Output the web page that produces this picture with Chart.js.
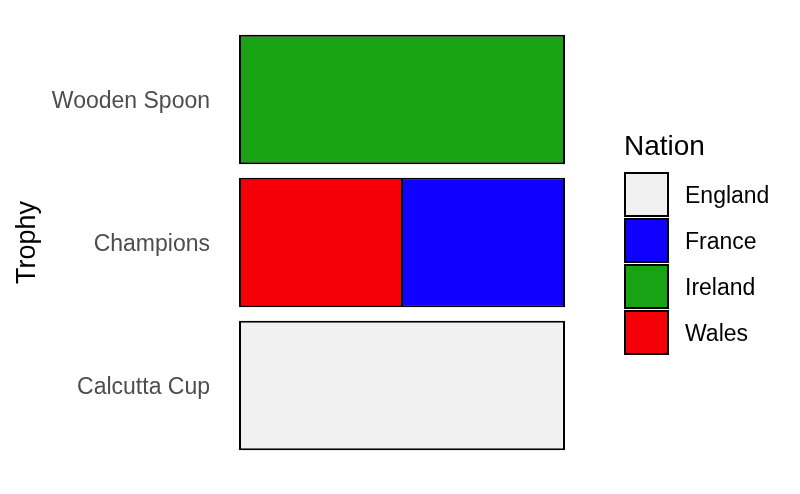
<!DOCTYPE html>
<html>
<head>
<meta charset="utf-8">
<script src="https://cdn.jsdelivr.net/npm/chart.js@4"></script>
<style>
html,body{margin:0;padding:0;background:#fff;}
#wrap{position:relative;width:800px;height:494px;}
</style>
</head>
<body>
<div id="wrap"><canvas id="c" width="800" height="494"></canvas></div>
<script>
const categories = ['Wooden Spoon', 'Champions', 'Calcutta Cup'];
const nations = ['England', 'France', 'Ireland', 'Wales'];
const englandValues = [null, null, 1];
const franceValues = [null, 0.5, null];
const irelandValues = [1, null, null];
const walesValues = [null, 0.5, null];
const nationColors = ['#F1F1F1', '#1000FF', '#17A314', '#F50008'];
const axisTitle = 'Trophy';
const legendTitle = 'Nation';

const FONT = '"Liberation Sans", Arial, sans-serif';

// stacking order: Wales left of France in Champions
const seriesValues = {England: englandValues, France: franceValues, Ireland: irelandValues, Wales: walesValues};
const stackOrder = ['England', 'Ireland', 'Wales', 'France'];

function bw(name) {
  return function(ctx) {
    const base = {top: 2, bottom: 2, left: 2, right: 2};
    if (name === 'Wales' && ctx.dataIndex === 1) base.right = 1;
    if (name === 'France' && ctx.dataIndex === 1) base.left = 1;
    return base;
  };
}

const datasets = stackOrder.map(name => ({
  label: name,
  data: seriesValues[name],
  backgroundColor: nationColors[nations.indexOf(name)],
  borderColor: '#000000',
  borderWidth: bw(name),
  borderSkipped: false,
  barPercentage: 1,
  categoryPercentage: 0.905
}));

const legendPlugin = {
  id: 'nationLegend',
  afterDraw(chart) {
    const ctx = chart.ctx;
    ctx.save();
    ctx.fillStyle = '#000';
    ctx.font = '28px ' + FONT;
    ctx.textAlign = 'left';
    ctx.textBaseline = 'alphabetic';
    ctx.fillText(legendTitle, 624, 155);
    const x0 = 625, y0 = 173, size = 43, step = 46;
    nations.forEach((n, i) => {
      const y = y0 + i * step;
      ctx.fillStyle = nationColors[i];
      ctx.fillRect(x0, y, size, size);
      ctx.strokeStyle = '#000';
      ctx.lineWidth = 2;
      ctx.strokeRect(x0, y, size, size);
      ctx.fillStyle = '#000';
      ctx.font = '23px ' + FONT;
      ctx.textBaseline = 'middle';
      ctx.fillText(n, 685, y + size / 2 + 2.5);
    });
    ctx.restore();
  }
};

new Chart(document.getElementById('c'), {
  type: 'bar',
  data: {labels: categories, datasets: datasets},
  options: {
    indexAxis: 'y',
    responsive: false,
    animation: false,
    layout: {padding: {top: 28, bottom: 37, left: 0, right: 235}},
    plugins: {legend: {display: false}, tooltip: {enabled: false}},
    scales: {
      x: {
        display: false,
        stacked: true,
        min: 0,
        max: 1
      },
      y: {
        stacked: true,
        grid: {display: false, drawTicks: false},
        border: {display: false},
        ticks: {
          color: '#4D4D4D',
          font: {family: FONT, size: 23},
          padding: 29,
          labelOffset: 2.5
        },
        title: {
          display: true,
          text: axisTitle,
          color: '#000',
          font: {family: FONT, size: 27},
          padding: {top: 11, bottom: 0}
        },
        afterFit(scale) {
          scale.width = 239;
          scale.paddingTop = 0;
          scale.paddingBottom = 0;
        }
      }
    }
  },
  plugins: [legendPlugin]
});
</script>
</body>
</html>
